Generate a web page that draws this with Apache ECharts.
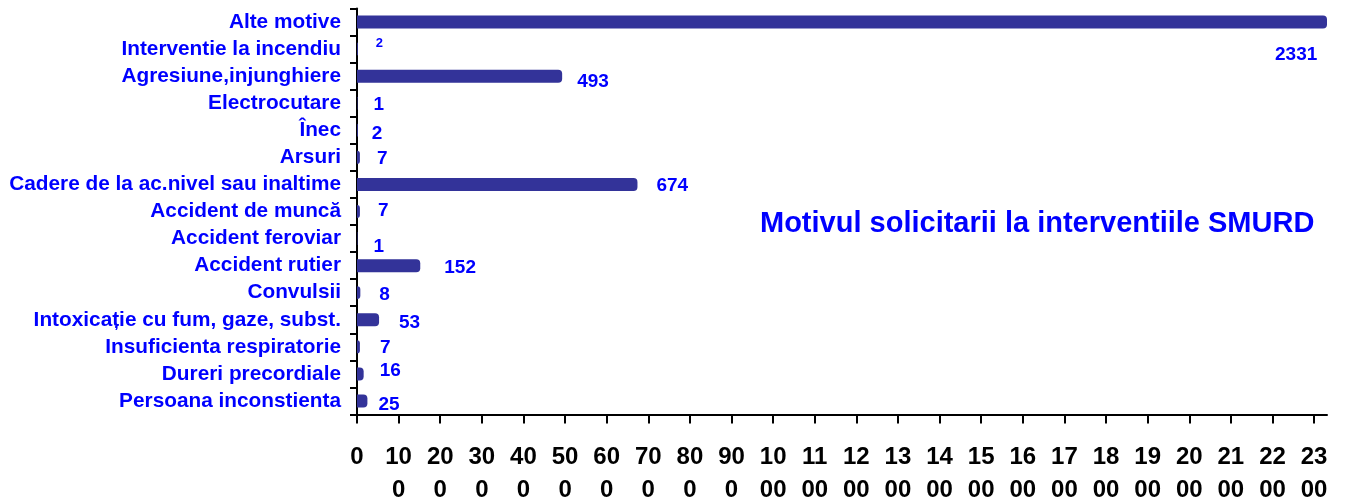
<!DOCTYPE html>
<html>
<head>
<meta charset="utf-8">
<script src="https://cdn.jsdelivr.net/npm/echarts@6/dist/echarts.min.js"></script>
<style>html,body{margin:0;padding:0;background:#fff}#c{width:1345px;height:501px}</style>
</head>
<body>
<div id="c"></div>
<script>
const categories = [
  'Alte motive',
  'Interventie la incendiu',
  'Agresiune,injunghiere',
  'Electrocutare',
  'Înec',
  'Arsuri',
  'Cadere de la ac.nivel sau inaltime',
  'Accident de muncă',
  'Accident feroviar',
  'Accident rutier',
  'Convulsii',
  'Intoxicație cu fum, gaze, subst.',
  'Insuficienta respiratorie',
  'Dureri precordiale',
  'Persoana inconstienta'
];
const values = [2331, 2, 493, 1, 2, 7, 674, 7, 1, 152, 8, 53, 7, 16, 25];
const tickValues = [0, 100, 200, 300, 400, 500, 600, 700, 800, 900, 1000, 1100, 1200,
  1300, 1400, 1500, 1600, 1700, 1800, 1900, 2000, 2100, 2200, 2300];
const tickLabels = ['0', '10\n0', '20\n0', '30\n0', '40\n0', '50\n0', '60\n0', '70\n0', '80\n0', '90\n0',
  '10\n00', '11\n00', '12\n00', '13\n00', '14\n00', '15\n00', '16\n00', '17\n00', '18\n00', '19\n00',
  '20\n00', '21\n00', '22\n00', '23\n00'];
const axisMax = 2331;
const titleText = 'Motivul solicitarii la interventiile SMURD';

// label placement tweaks (layout only)
const labelOffsets = [[-57, 33], [13, -6], [10, 6], [11, 2], [9, 3], [12, 1], [14, 1], [13, -1],
  [11, 8], [19, 2], [14, 2], [15, 3], [15, 1], [11, -3], [6, 4]];

const FONT = '"Liberation Sans", Arial, sans-serif';
const BLUE = '#0000ff';

const seriesData = values.map((v, i) => ({
  value: v,
  label: i === 1
    ? { offset: labelOffsets[i], fontSize: 13 }
    : { offset: labelOffsets[i] }
}));

const chart = echarts.init(document.getElementById('c'));
chart.setOption({
  animation: false,
  backgroundColor: '#fff',
  title: {
    text: titleText,
    left: 755,
    top: 204,
    textStyle: { color: BLUE, fontFamily: FONT, fontWeight: 'bold', fontSize: 29 }
  },
  grid: { left: 357, right: 18, top: 8.5, bottom: 86.5, containLabel: false, outerBoundsMode: 'none' },
  xAxis: {
    type: 'value',
    min: 0,
    max: axisMax,
    interval: 100,
    splitLine: { show: false },
    axisLine: { show: true, lineStyle: { color: '#000', width: 2 } },
    axisTick: { show: true, length: 9, lineStyle: { color: '#000', width: 2 }, customValues: tickValues },
    axisLabel: {
      customValues: tickValues,
      formatter: (v) => { const k = tickValues.indexOf(v); return k >= 0 ? tickLabels[k] : ''; },
      color: '#000',
      fontFamily: FONT,
      fontWeight: 'bold',
      fontSize: 24,
      lineHeight: 33,
      margin: 26,
      hideOverlap: false
    }
  },
  yAxis: {
    type: 'category',
    data: categories,
    inverse: true,
    axisLine: { show: true, lineStyle: { color: '#000', width: 2 } },
    axisTick: { show: true, length: 7, interval: 0, lineStyle: { color: '#000', width: 2 } },
    axisLabel: {
      interval: 0,
      color: BLUE,
      fontFamily: FONT,
      fontWeight: 'bold',
      fontSize: 20.8,
      margin: 16
    }
  },
  series: [{
    type: 'bar',
    data: seriesData,
    barWidth: 13,
    itemStyle: { color: '#333399', borderRadius: [0, 4, 4, 0] },
    label: {
      show: true,
      position: 'right',
      distance: 5,
      color: BLUE,
      fontFamily: FONT,
      fontWeight: 'bold',
      fontSize: 19
    },
    z: 1
  }]
});
</script>
</body>
</html>
